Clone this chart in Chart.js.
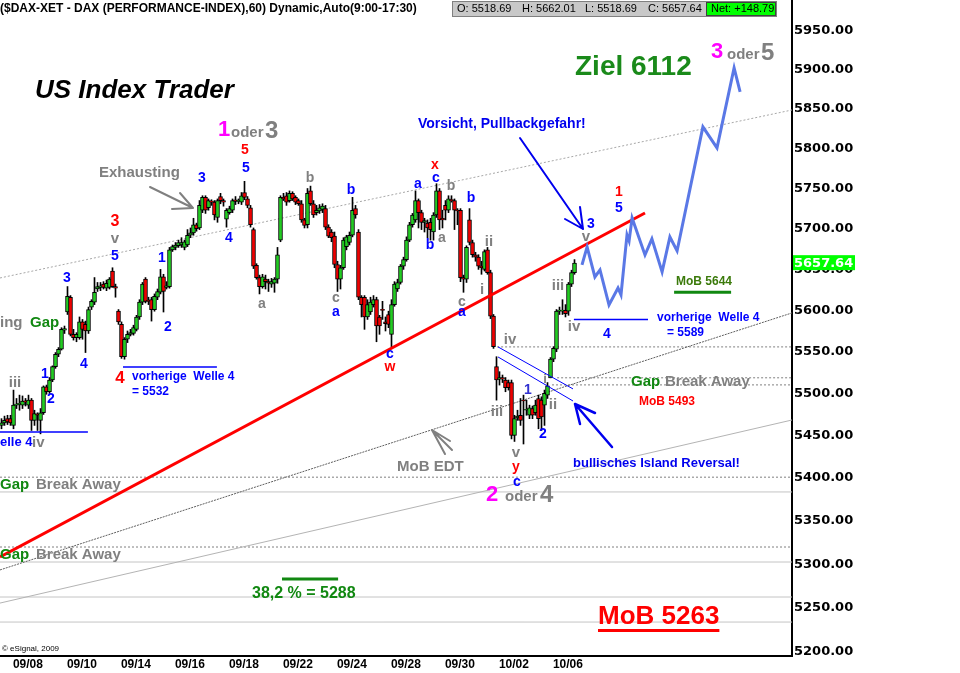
<!DOCTYPE html>
<html>
<head>
<meta charset="utf-8">
<script src="https://cdn.jsdelivr.net/npm/chart.js@4.4.1/dist/chart.umd.min.js"></script>
<style>
  html, body { margin: 0; padding: 0; background: #fff; overflow: hidden; }
  canvas { display: block; }
</style>
</head>
<body>
<canvas id="chart" width="960" height="673"></canvas>
<script>
const FONT = 'Arial, "Liberation Sans", sans-serif';

// — hourly bars, first visible bar = index 0 (09/07 late) ... last = 10/06 —
const opens = [
  5462,5465,5470,5470,5462,5486,5487,5486,5491,5486,
  5492,5468,5475,5468,5477,5508,5502,5516,5532,5547,
  5553,5576,5598,5616,5571,5567,5567,5586,5583,5575,
  5604,5610,5626,5628,5632,5627,5628,5648,5629,5599,
  5583,5544,5565,5571,5572,5577,5592,5610,5638,5612,
  5613,5601,5616,5622,5641,5628,5629,5674,5677,5679,
  5680,5677,5680,5692,5695,5705,5701,5723,5739,5726,
  5734,5733,5714,5740,5735,5712,5720,5723,5736,5734,
  5733,5745,5737,5726,5699,5655,5640,5629,5638,5635,
  5632,5633,5638,5686,5739,5741,5735,5744,5739,5735,
  5731,5711,5705,5747,5731,5720,5722,5724,5725,5702,
  5696,5691,5656,5638,5652,5678,5683,5692,5725,5696,
  5616,5616,5592,5598,5607,5613,5592,5601,5586,5595,
  5571,5607,5626,5634,5654,5662,5686,5705,5711,5735,
  5720,5708,5707,5708,5696,5717,5747,5713,5729,5723,
  5736,5735,5723,5723,5640,5638,5711,5683,5668,5665,
  5654,5650,5674,5646,5593,5532,5517,5519,5516,5513,
  5513,5450,5471,5474,5492,5480,5474,5482,5477,5494,
  5492,5486,5498,5518.69,5541,5553,5599,5599,5600,5599,
  5632,5646
];
const highs = [
  5470,5473,5474,5474,5504,5494,5498,5497,5494,5498,
  5494,5480,5477,5482,5509,5510,5519,5533,5549,5555,
  5579,5581,5629,5618,5577,5573,5592,5589,5587,5604,
  5613,5640,5634,5634,5635,5637,5640,5652,5632,5601,
  5586,5567,5575,5577,5582,5594,5613,5634,5640,5616,
  5616,5620,5626,5650,5644,5635,5677,5680,5683,5686,
  5689,5686,5699,5701,5713,5707,5735,5741,5741,5737,
  5736,5735,5737,5744,5737,5725,5728,5737,5740,5737,
  5745,5759,5740,5729,5701,5657,5643,5644,5643,5638,
  5639,5640,5677,5741,5744,5745,5747,5746,5741,5737,
  5735,5713,5750,5753,5735,5729,5730,5731,5729,5705,
  5699,5696,5660,5655,5689,5692,5696,5739,5729,5699,
  5618,5618,5613,5616,5618,5616,5594,5611,5592,5599,
  5613,5635,5638,5656,5665,5690,5708,5719,5747,5737,
  5723,5713,5711,5713,5720,5756,5750,5723,5735,5741,
  5741,5737,5725,5725,5643,5679,5725,5686,5671,5668,
  5660,5674,5677,5649,5595,5544,5526,5522,5519,5516,
  5516,5474,5480,5494,5498,5492,5486,5485,5492,5498,
  5496,5504,5513,5543,5556,5601,5604,5613,5607,5634,
  5649,5662.01
];
const lows = [
  5458,5462,5463,5462,5458,5482,5480,5482,5485,5482,
  5456,5462,5456,5452,5475,5499,5500,5514,5530,5544,
  5552,5572,5595,5569,5564,5562,5565,5565,5549,5572,
  5601,5607,5623,5624,5626,5624,5626,5628,5616,5583,
  5542,5541,5561,5569,5570,5575,5589,5607,5609,5607,
  5587,5599,5613,5620,5598,5626,5627,5672,5674,5677,
  5677,5674,5678,5689,5692,5697,5699,5720,5719,5723,
  5729,5711,5708,5731,5728,5702,5718,5720,5730,5731,
  5730,5736,5726,5702,5651,5638,5620,5627,5626,5623,
  5628,5622,5633,5684,5735,5729,5733,5735,5730,5729,
  5708,5701,5701,5729,5714,5717,5719,5720,5699,5689,
  5684,5652,5623,5626,5650,5674,5680,5690,5713,5613,
  5592,5577,5589,5595,5604,5562,5571,5589,5575,5579,
  5556,5605,5623,5632,5650,5660,5684,5702,5708,5701,
  5699,5696,5689,5686,5686,5714,5699,5701,5711,5720,
  5733,5699,5705,5635,5622,5634,5680,5665,5660,5650,
  5644,5648,5644,5590,5554,5492,5510,5513,5502,5504,
  5446,5443,5468,5462,5440,5474,5470,5470,5474,5458,
  5456,5462,5494,5518.69,5538,5550,5595,5595,5592,5594,
  5629,5644
];
const closes = [
  5465,5468,5466,5465,5486,5487,5488,5491,5490,5492,
  5468,5476,5474,5477,5508,5502,5516,5532,5547,5553,
  5577,5578,5617,5571,5567,5571,5586,5577,5575,5601,
  5611,5622,5629,5630,5628,5633,5638,5629,5627,5586,
  5544,5565,5571,5573,5579,5592,5610,5632,5611,5611,
  5601,5617,5623,5641,5623,5630,5674,5678,5680,5683,
  5683,5684,5692,5695,5705,5700,5729,5739,5723,5735,
  5733,5717,5735,5735,5733,5723,5725,5735,5734,5735,
  5741,5739,5729,5705,5654,5640,5629,5641,5635,5633,
  5635,5638,5668,5739,5737,5733,5744,5737,5733,5731,
  5711,5704,5744,5731,5717,5723,5726,5728,5702,5691,
  5689,5656,5638,5652,5686,5690,5692,5723,5717,5616,
  5607,5592,5607,5610,5613,5581,5581,5600,5584,5583,
  5607,5632,5634,5654,5662,5686,5705,5717,5735,5720,
  5708,5710,5701,5699,5717,5747,5711,5711,5723,5737,
  5735,5723,5722,5640,5638,5677,5683,5668,5665,5654,
  5652,5672,5646,5593,5556,5516,5519,5517,5507,5507,
  5450,5470,5473,5468,5491,5481,5483,5474,5486,5470,
  5472,5500,5509,5541,5554,5599,5600,5600,5596,5632,
  5646,5657.64
];

// date labels and the bar index they sit under
const dayLabels  = ['09/08','09/10','09/14','09/16','09/18','09/22','09/24','09/28','09/30','10/02','10/06'];
const dayTickPos = [8.8, 26.8, 44.8, 62.8, 80.8, 98.8, 116.8, 134.8, 152.8, 170.8, 188.8];
const priceTicks = [5200,5250,5300,5350,5400,5450,5500,5550,5600,5650,5700,5750,5800,5850,5900,5950];

// projected path (bar index, price)
const projX = [193.5,195.2,197.8,199.5,202.5,205.5,206.5,208.5,209.2,210.2,214.5,216.8,220.2,222.8,225.2,233.8,238.5,244.2,246.2];
const projY = [5655.5,5677.6,5640.7,5649.3,5606.6,5627.3,5618.8,5692.4,5685,5713.4,5667.7,5687.5,5646.9,5689.9,5672.7,5827.4,5800.9,5902.4,5871.8];

// trend lines: [startIndex, startPrice, endIndex, endPrice]
const redTrend    = [-0.5, 5308.3, 214.5, 5719.6];
const channelTop  = [-0.5, 5639.5, 263.5, 5848.8];
const edtLine     = [-0.5, 5293.4, 263.5, 5596.9];
const channelLow  = [-0.5, 5255.5, 263.5, 5468.4];
const islandUpper = [165.5, 5555.8, 190.5, 5505.4];
const islandLower = [165.5, 5543.7, 190.5, 5491.0];

// horizontal levels
const dottedLevels = [5555.8, 5518.7, 5510.2, 5401.0, 5319.8];
const dottedStart  = [165.2, 185.2, 183.5, -0.5, -0.5];
const solidLevels  = [5383.7, 5302.5, 5262.4, 5233.9];
const waveFourLevels = [5454.3, 5531.7, 5589.0];
const waveFourFrom   = [-0.5, 40.5, 190.8];
const waveFourTo     = [28.8, 71.8, 215.5];
const greenMarks     = [5622.0, 5283.0];
const greenFrom      = [224.2, 93.5];
const greenTo        = [243.2, 112.2];

const lastClose = closes[closes.length - 1];

// — colours —
const GRAY = '#808080', BLUE = '#0000ff', RED = '#ff0000', MAG = '#ff00ff', GREEN = '#118811';

// texts: [text, x, y, colour, font, align]
const notes = [
  ['US Index Trader', 35, 91, '#000', 'italic bold 26px', 'left'],
  ['Ziel 6112', 575, 67, '#1a8a1a', 'bold 28px', 'left'],
  ['3', 711, 52, MAG, 'bold 22px', 'left'], ['oder', 727, 55, GRAY, 'bold 15px', 'left'], ['5', 761, 53, GRAY, 'bold 24px', 'left'],
  ['1', 218, 130, MAG, 'bold 22px', 'left'], ['oder', 231, 133, GRAY, 'bold 15px', 'left'], ['3', 265, 131, GRAY, 'bold 24px', 'left'],
  ['2', 486, 495, MAG, 'bold 22px', 'left'], ['oder', 505, 497, GRAY, 'bold 15px', 'left'], ['4', 540, 495, GRAY, 'bold 24px', 'left'],
  ['Exhausting', 99, 173, GRAY, 'bold 15px', 'left'],
  ['Vorsicht, Pullbackgefahr!', 418, 124, '#0000ee', 'bold 14px', 'left'],
  ['ing', 0, 323, GRAY, 'bold 15px', 'left'], ['Gap', 30, 323, GREEN, 'bold 15px', 'left'],
  ['elle 4', 0, 442, BLUE, 'bold 13px', 'left'], ['iv', 32, 443, GRAY, 'bold 15px', 'left'],
  ['vorherige  Welle 4', 132, 377, BLUE, 'bold 12px', 'left'], ['= 5532', 132, 392, BLUE, 'bold 12px', 'left'],
  ['MoB EDT', 397, 467, GRAY, 'bold 15px', 'left'],
  ['bullisches Island Reversal!', 573, 463, '#0000ee', 'bold 13px', 'left'],
  ['Gap', 631, 382, GREEN, 'bold 15px', 'left'], ['Break Away', 665, 382, GRAY, 'bold 15px', 'left'],
  ['MoB 5493', 639, 402, RED, 'bold 12px', 'left'],
  ['MoB 5644', 676, 282, '#3b7a0b', 'bold 12px', 'left'],
  ['vorherige  Welle 4', 657, 318, BLUE, 'bold 12px', 'left'], ['= 5589', 667, 333, BLUE, 'bold 12px', 'left'],
  ['Gap', 0, 485, GREEN, 'bold 15px', 'left'], ['Break Away', 36, 485, GRAY, 'bold 15px', 'left'],
  ['Gap', 0, 555, GREEN, 'bold 15px', 'left'], ['Break Away', 36, 555, GRAY, 'bold 15px', 'left'],
  ['38,2 % = 5288', 252, 594, GREEN, 'bold 16px', 'left'],
  ['MoB 5263', 598, 617, RED, 'bold 26px', 'left'],
  ['\u00a9 eSignal, 2009', 2, 649, '#000', '8px', 'left'],
  // wave counts
  ['iii', 15, 383, GRAY, 'bold 15px', 'center'], ['1', 45, 374, BLUE, 'bold 14px', 'center'], ['2', 51, 399, BLUE, 'bold 14px', 'center'],
  ['3', 67, 278, BLUE, 'bold 14px', 'center'], ['4', 84, 364, BLUE, 'bold 14px', 'center'],
  ['3', 115, 222, RED, 'bold 16px', 'center'], ['v', 115, 239, GRAY, 'bold 15px', 'center'], ['5', 115, 256, BLUE, 'bold 14px', 'center'],
  ['4', 120, 378, RED, 'bold 17px', 'center'], ['1', 162, 258, BLUE, 'bold 14px', 'center'], ['2', 168, 327, BLUE, 'bold 14px', 'center'],
  ['3', 202, 178, BLUE, 'bold 14px', 'center'], ['4', 229, 238, BLUE, 'bold 14px', 'center'],
  ['5', 245, 150, RED, 'bold 14px', 'center'], ['5', 246, 168, BLUE, 'bold 14px', 'center'],
  ['a', 262, 304, GRAY, 'bold 14px', 'center'], ['b', 310, 178, GRAY, 'bold 14px', 'center'],
  ['c', 336, 298, GRAY, 'bold 14px', 'center'], ['a', 336, 312, BLUE, 'bold 14px', 'center'],
  ['b', 351, 190, BLUE, 'bold 14px', 'center'], ['c', 390, 354, BLUE, 'bold 14px', 'center'], ['w', 390, 367, RED, 'bold 14px', 'center'],
  ['a', 418, 184, BLUE, 'bold 14px', 'center'], ['b', 430, 245, BLUE, 'bold 14px', 'center'], ['a', 442, 238, GRAY, 'bold 14px', 'center'],
  ['x', 435, 165, RED, 'bold 14px', 'center'], ['c', 436, 178, BLUE, 'bold 14px', 'center'], ['b', 451, 186, GRAY, 'bold 14px', 'center'],
  ['b', 471, 198, BLUE, 'bold 14px', 'center'], ['c', 462, 302, GRAY, 'bold 14px', 'center'], ['a', 462, 312, BLUE, 'bold 14px', 'center'],
  ['ii', 489, 242, GRAY, 'bold 15px', 'center'], ['i', 482, 290, GRAY, 'bold 15px', 'center'], ['iv', 510, 340, GRAY, 'bold 15px', 'center'],
  ['iii', 497, 412, GRAY, 'bold 15px', 'center'], ['1', 528, 390, '#3030d0', 'bold 14px', 'center'], ['i', 545, 379, GRAY, 'bold 13px', 'center'],
  ['ii', 553, 405, GRAY, 'bold 15px', 'center'], ['2', 543, 434, BLUE, 'bold 14px', 'center'],
  ['v', 516, 453, GRAY, 'bold 15px', 'center'], ['y', 516, 467, RED, 'bold 14px', 'center'], ['c', 517, 482, BLUE, 'bold 14px', 'center'],
  ['iii', 558, 286, GRAY, 'bold 15px', 'center'], ['iv', 574, 327, GRAY, 'bold 15px', 'center'], ['4', 607, 334, BLUE, 'bold 14px', 'center'],
  ['3', 591, 224, BLUE, 'bold 14px', 'center'], ['v', 586, 237, GRAY, 'bold 15px', 'center'],
  ['1', 619, 192, RED, 'bold 14px', 'center'], ['5', 619, 208, BLUE, 'bold 14px', 'center']
];

// arrows: colour, width, shaft [x1,y1,x2,y2] (tip at end), head end points
const arrows = [
  [GRAY, 2, [150, 187, 193, 208], [[172, 209], [180, 193]]],
  ['#0000ee', 2, [520, 138, 583, 229], [[565, 219], [580, 207]]],
  ['#0000ee', 2.5, [612, 447, 575, 404], [[595, 413], [580, 424]]],
  [GRAY, 2, [452, 450, 432, 430], [[450, 441], [445, 454]]]
];

// — helpers —
function seg(l, color, width, dash, order) {
  return {
    type: 'line',
    data: [{ x: l[0], y: l[1] }, { x: l[2], y: l[3] }],
    borderColor: color, borderWidth: width, borderDash: dash || [],
    pointRadius: 0, fill: false, tension: 0, order
  };
}

const idx = closes.map((_, i) => i);
const wickData = idx.map(i => ({ x: i, y: [lows[i], highs[i]] }));
const bodyData = idx.map(i => ({ x: i, y: [Math.min(opens[i], closes[i]), Math.max(opens[i], closes[i])] }));
const bodyColors = idx.map(i => closes[i] >= opens[i] ? '#22cc22' : '#ee0000');

const datasets = [
  { type: 'bar', data: bodyData, backgroundColor: bodyColors, borderColor: '#000', borderWidth: 1,
    borderSkipped: false, barThickness: 4, minBarLength: 1, grouped: false, order: 2 },
  { type: 'bar', data: wickData, backgroundColor: '#000', borderWidth: 0,
    barThickness: 1, grouped: false, order: 3 },
  { type: 'line', data: projX.map((x, i) => ({ x, y: projY[i] })), borderColor: '#5a78e6', borderWidth: 3,
    pointRadius: 0, fill: false, tension: 0, order: 0 },
  seg(redTrend, '#ff0000', 3, [], 1),
  seg(channelTop, '#a8a8a8', 1, [2, 2], 6),
  seg(edtLine, '#606060', 1, [2, 1], 6),
  seg(channelLow, '#b4b4b4', 1, [], 6),
  seg(islandUpper, '#0000ff', 1, [], 1),
  seg(islandLower, '#0000ff', 1, [], 1)
];
dottedLevels.forEach((p, i) => datasets.push(seg([dottedStart[i], p, 263.5, p], '#808080', 1, [2, 2], 7)));
solidLevels.forEach(p => datasets.push(seg([-0.5, p, 263.5, p], '#c4c4c4', 1, [], 7)));
waveFourLevels.forEach((p, i) => datasets.push(seg([waveFourFrom[i], p, waveFourTo[i], p], '#0000ff', 1.5, [], 1)));
greenMarks.forEach((p, i) => datasets.push(seg([greenFrom[i], p, greenTo[i], p], '#118811', 3, [], 1)));

const overlay = {
  id: 'overlay',
  beforeDraw(chart) {
    const ctx = chart.ctx;
    ctx.save();
    ctx.fillStyle = '#fff';
    ctx.fillRect(0, 0, chart.width, chart.height);
    ctx.restore();
  },
  afterDraw(chart) {
    const ctx = chart.ctx;
    ctx.save();
    ctx.textBaseline = 'middle';

    // arrows
    arrows.forEach(([c, w, s, heads]) => {
      ctx.strokeStyle = c; ctx.lineWidth = w; ctx.lineCap = 'round';
      ctx.beginPath();
      ctx.moveTo(s[0], s[1]); ctx.lineTo(s[2], s[3]);
      heads.forEach(h => { ctx.moveTo(s[2], s[3]); ctx.lineTo(h[0], h[1]); });
      ctx.stroke();
    });

    // annotations
    notes.forEach(([t, x, y, c, f, a]) => {
      ctx.font = f + ' ' + FONT;
      ctx.fillStyle = c;
      ctx.textAlign = a;
      ctx.fillText(t, x, y);
    });
    // underline of MoB 5263
    ctx.font = 'bold 26px ' + FONT;
    const w = ctx.measureText('MoB 5263').width;
    ctx.fillStyle = RED;
    ctx.fillRect(598, 629, w, 3);

    // header line
    ctx.textAlign = 'left';
    ctx.font = 'bold 12px ' + FONT;
    ctx.fillStyle = '#000';
    ctx.fillText('($DAX-XET - DAX (PERFORMANCE-INDEX),60) Dynamic,Auto(9:00-17:30)', 0, 9);
    ctx.fillStyle = '#c8c8c8';
    ctx.fillRect(452, 1, 325, 16);
    ctx.strokeStyle = '#808080'; ctx.lineWidth = 1;
    ctx.strokeRect(452.5, 1.5, 324, 15);
    ctx.fillStyle = '#00ff00';
    ctx.fillRect(706, 2, 70, 14);
    ctx.strokeStyle = '#404040';
    ctx.strokeRect(706.5, 2.5, 69, 13);
    ctx.font = '11px ' + FONT;
    ctx.fillStyle = '#000';
    ctx.fillText('O: 5518.69', 457, 9);
    ctx.fillText('H: 5662.01', 522, 9);
    ctx.fillText('L: 5518.69', 585, 9);
    ctx.fillText('C: 5657.64', 648, 9);
    ctx.fillText('Net: +148.79', 711, 9);

    // last price tag on the axis
    const y = chart.scales.y.getPixelForValue(lastClose);
    ctx.fillStyle = '#00ff00';
    ctx.fillRect(793, y - 8, 62, 15);
    ctx.fillStyle = '#fff';
    ctx.font = 'bold 13px "DejaVu Sans", ' + FONT;
    ctx.fillText(lastClose.toFixed(2), 794, y);
    ctx.restore();
  }
};

new Chart(document.getElementById('chart'), {
  type: 'bar',
  data: { datasets },
  plugins: [overlay],
  options: {
    responsive: false,
    animation: false,
    devicePixelRatio: 1,
    layout: { padding: 0 },
    plugins: { legend: { display: false }, tooltip: { enabled: false } },
    scales: {
      x: {
        type: 'linear', min: -0.5, max: 263.5, offset: false, bounds: 'data',
        grid: { display: false, drawTicks: false },
        border: { display: true, color: '#000', width: 2 },
        ticks: {
          autoSkip: false, maxRotation: 0, padding: 1, color: '#000',
          font: { family: FONT, size: 12, weight: 'bold' },
          callback: (v, i) => dayLabels[i]
        },
        afterBuildTicks: s => { s.ticks = dayTickPos.map(v => ({ value: v })); },
        afterFit: s => { s.height = 17; s.paddingLeft = 0; s.paddingRight = 0; }
      },
      y: {
        type: 'logarithmic', position: 'right', min: 5195.5, max: 5990, bounds: 'data',
        grid: { display: false, drawTicks: false },
        border: { display: true, color: '#000', width: 2 },
        ticks: {
          autoSkip: false, padding: 2, color: '#000',
          font: { family: '"DejaVu Sans", ' + FONT, size: 13, weight: 'bold' },
          callback: v => Number(v).toFixed(2)
        },
        afterBuildTicks: s => { s.ticks = priceTicks.map(v => ({ value: v })); },
        afterFit: s => { s.width = 168; s.paddingTop = 0; s.paddingBottom = 0; }
      }
    }
  }
});
</script>
</body>
</html>
